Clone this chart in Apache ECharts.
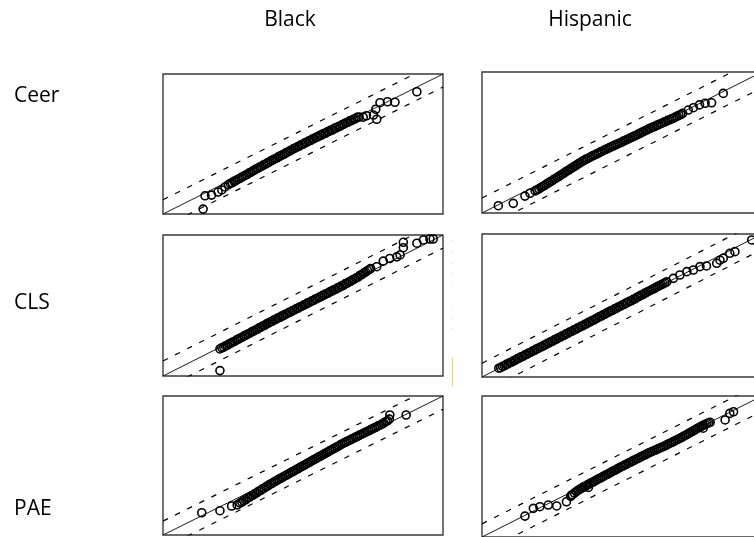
<!DOCTYPE html>
<html>
<head>
<meta charset="utf-8">
<script src="https://cdn.jsdelivr.net/npm/echarts@6/dist/echarts.min.js"></script>
<style>
  html, body { margin: 0; padding: 0; background: #fff; }
  #chart { width: 754px; height: 537px; }
</style>
</head>
<body>
<div id="chart"></div>
<script>
// Normal Q-Q plots of residuals: rows are outcomes, columns are groups.
const rowLabels = ['Ceer', 'CLS', 'PAE'];
const colLabels = ['Black', 'Hispanic'];

// Axis range (theoretical quantile on x, sample quantile on y)
const axisMin = -3;
const axisMax = 3;

// Half-widths of the dashed confidence band above / below the reference line
const bandUpper = [0.61, 0.64, 0.64, 0.58, 0.60, 0.56];
const bandLower = [0.56, 0.67, 0.56, 0.65, 0.57, 0.65];

// [theoretical quantile, sample quantile]
const ceerBlack = [
  [-2.14,-2.79],[-2.10,-2.22],[-1.96,-2.19],[-1.82,-2.06],[-1.74,-1.97],[-1.67,-1.84],
  [-1.60,-1.74],[-1.56,-1.69],[-1.52,-1.66],[-1.48,-1.60],[-1.44,-1.57],[-1.40,-1.52],
  [-1.36,-1.48],[-1.32,-1.43],[-1.28,-1.39],[-1.24,-1.34],[-1.20,-1.31],[-1.16,-1.25],
  [-1.12,-1.21],[-1.08,-1.16],[-1.04,-1.12],[-1.00,-1.06],[-0.96,-1.03],[-0.92,-0.98],
  [-0.88,-0.95],[-0.84,-0.89],[-0.80,-0.86],[-0.76,-0.81],[-0.72,-0.77],[-0.68,-0.71],
  [-0.64,-0.68],[-0.60,-0.63],[-0.56,-0.60],[-0.52,-0.54],[-0.48,-0.51],[-0.44,-0.46],
  [-0.40,-0.43],[-0.36,-0.37],[-0.32,-0.34],[-0.28,-0.29],[-0.24,-0.25],[-0.20,-0.20],
  [-0.16,-0.17],[-0.12,-0.12],[-0.08,-0.09],[-0.04,-0.03],[0.00,-0.01],[0.04,0.05],
  [0.08,0.07],[0.12,0.13],[0.16,0.15],[0.20,0.21],[0.24,0.23],[0.28,0.29],
  [0.32,0.31],[0.36,0.37],[0.40,0.38],[0.44,0.45],[0.48,0.46],[0.52,0.52],
  [0.56,0.54],[0.60,0.60],[0.64,0.61],[0.68,0.68],[0.72,0.69],[0.76,0.75],
  [0.80,0.77],[0.84,0.83],[0.88,0.85],[0.92,0.91],[0.96,0.93],[1.00,0.99],
  [1.04,1.00],[1.08,1.06],[1.12,1.08],[1.16,1.14],[1.20,1.15],
  [1.29,1.15],[1.36,1.21],[1.51,1.24],[1.58,1.06],[1.56,1.49],[1.65,1.77],
  [1.81,1.81],[1.97,1.79],[2.44,2.24]
];
const ceerHispanic = [
  [-2.65,-2.69],[-2.33,-2.59],[-2.08,-2.28],[-1.97,-2.16],
  [-1.86,-2.06],[-1.82,-2.01],[-1.78,-1.97],[-1.74,-1.92],[-1.70,-1.87],[-1.66,-1.83],
  [-1.62,-1.77],[-1.58,-1.73],[-1.54,-1.67],[-1.50,-1.63],[-1.46,-1.57],[-1.42,-1.53],
  [-1.38,-1.47],[-1.34,-1.43],[-1.30,-1.37],[-1.26,-1.32],[-1.22,-1.27],[-1.18,-1.21],
  [-1.14,-1.17],[-1.10,-1.11],[-1.06,-1.07],[-1.02,-1.01],[-0.98,-0.97],[-0.94,-0.91],
  [-0.90,-0.87],[-0.86,-0.81],[-0.82,-0.77],[-0.78,-0.72],[-0.74,-0.69],[-0.70,-0.64],
  [-0.66,-0.60],[-0.62,-0.56],[-0.58,-0.53],[-0.54,-0.48],[-0.50,-0.45],[-0.46,-0.40],
  [-0.42,-0.37],[-0.38,-0.32],[-0.34,-0.29],[-0.30,-0.25],[-0.26,-0.22],[-0.22,-0.17],
  [-0.18,-0.14],[-0.14,-0.10],[-0.10,-0.07],[-0.06,-0.03],[-0.02,0.00],[0.02,0.05],
  [0.06,0.08],[0.10,0.12],[0.14,0.15],[0.18,0.20],[0.22,0.23],[0.26,0.27],
  [0.30,0.30],[0.34,0.35],[0.38,0.38],[0.42,0.43],[0.46,0.46],[0.50,0.51],
  [0.54,0.54],[0.58,0.59],[0.62,0.61],[0.66,0.66],[0.70,0.68],[0.74,0.73],
  [0.78,0.75],[0.82,0.80],[0.86,0.82],[0.90,0.87],[0.94,0.89],[0.98,0.94],
  [1.02,0.96],[1.06,1.01],[1.10,1.03],[1.14,1.08],[1.18,1.11],[1.22,1.16],
  [1.26,1.19],[1.30,1.24],
  [1.42,1.38],[1.53,1.48],[1.66,1.60],[1.78,1.67],[1.92,1.69],[2.17,2.09]
];
const clsBlack = [
  [-1.78,-2.77],
  [-1.78,-1.85],[-1.74,-1.80],[-1.70,-1.77],[-1.66,-1.72],[-1.62,-1.69],[-1.58,-1.63],
  [-1.54,-1.60],[-1.50,-1.55],[-1.46,-1.52],[-1.42,-1.46],[-1.38,-1.43],[-1.34,-1.38],
  [-1.30,-1.35],[-1.26,-1.29],[-1.22,-1.26],[-1.18,-1.21],[-1.14,-1.18],[-1.10,-1.12],
  [-1.06,-1.09],[-1.02,-1.04],[-0.98,-1.01],[-0.94,-0.95],[-0.90,-0.92],[-0.86,-0.87],
  [-0.82,-0.84],[-0.78,-0.78],[-0.74,-0.75],[-0.70,-0.70],[-0.66,-0.67],[-0.62,-0.61],
  [-0.58,-0.59],[-0.54,-0.53],[-0.50,-0.51],[-0.46,-0.45],[-0.42,-0.43],[-0.38,-0.37],
  [-0.34,-0.35],[-0.30,-0.29],[-0.26,-0.27],[-0.22,-0.21],[-0.18,-0.19],[-0.14,-0.13],
  [-0.10,-0.11],[-0.06,-0.05],[-0.02,-0.03],[0.02,0.03],[0.06,0.05],[0.10,0.11],
  [0.14,0.13],[0.18,0.19],[0.22,0.21],[0.26,0.27],[0.30,0.29],[0.34,0.35],
  [0.38,0.37],[0.42,0.43],[0.46,0.45],[0.50,0.51],[0.54,0.53],[0.58,0.59],
  [0.62,0.61],[0.66,0.67],[0.70,0.69],[0.74,0.75],[0.78,0.77],[0.82,0.83],
  [0.86,0.85],[0.90,0.92],[0.94,0.94],[0.98,1.00],[1.02,1.03],[1.06,1.09],
  [1.10,1.12],[1.14,1.18],[1.18,1.21],[1.22,1.28],[1.26,1.31],[1.30,1.38],
  [1.34,1.42],[1.38,1.48],[1.42,1.53],[1.45,1.57],
  [1.58,1.65],[1.72,1.89],[1.86,2.00],[2.01,2.07],[2.08,2.15],[2.15,2.46],[2.15,2.69],
  [2.44,2.65],[2.58,2.79],[2.72,2.83],[2.79,2.83]
];
const clsHispanic = [
  [-2.64,-2.63],[-2.60,-2.61],[-2.56,-2.55],[-2.52,-2.53],[-2.48,-2.47],[-2.44,-2.45],
  [-2.40,-2.39],[-2.36,-2.37],[-2.32,-2.31],[-2.28,-2.29],[-2.24,-2.23],[-2.20,-2.21],
  [-2.16,-2.15],[-2.12,-2.13],[-2.08,-2.07],[-2.04,-2.05],[-2.00,-1.99],[-1.96,-1.97],
  [-1.92,-1.91],[-1.88,-1.89],[-1.84,-1.83],[-1.80,-1.81],[-1.76,-1.75],[-1.72,-1.73],
  [-1.68,-1.67],[-1.64,-1.65],[-1.60,-1.59],[-1.56,-1.57],[-1.52,-1.51],[-1.48,-1.49],
  [-1.44,-1.43],[-1.40,-1.41],[-1.36,-1.35],[-1.32,-1.33],[-1.28,-1.27],[-1.24,-1.25],
  [-1.20,-1.19],[-1.16,-1.17],[-1.12,-1.11],[-1.08,-1.09],[-1.04,-1.03],[-1.00,-1.01],
  [-0.96,-0.95],[-0.92,-0.93],[-0.88,-0.87],[-0.84,-0.85],[-0.80,-0.79],[-0.76,-0.77],
  [-0.72,-0.71],[-0.68,-0.69],[-0.64,-0.63],[-0.60,-0.61],[-0.56,-0.55],[-0.52,-0.52],
  [-0.48,-0.46],[-0.44,-0.44],[-0.40,-0.38],[-0.36,-0.36],[-0.32,-0.30],[-0.28,-0.28],
  [-0.24,-0.22],[-0.20,-0.20],[-0.16,-0.14],[-0.12,-0.12],[-0.08,-0.06],[-0.04,-0.04],
  [0.00,0.02],[0.04,0.04],[0.08,0.10],[0.12,0.12],[0.16,0.18],[0.20,0.20],
  [0.24,0.26],[0.28,0.28],[0.32,0.34],[0.36,0.37],[0.40,0.43],[0.44,0.45],
  [0.48,0.51],[0.52,0.54],[0.56,0.59],[0.60,0.62],[0.64,0.67],[0.68,0.70],
  [0.72,0.75],[0.76,0.79],[0.80,0.83],[0.84,0.87],[0.88,0.91],[0.92,0.95],[0.96,0.99],
  [1.10,1.14],[1.24,1.28],[1.39,1.42],[1.53,1.49],[1.67,1.63],[1.81,1.66],
  [2.03,1.77],[2.10,1.90],[2.17,1.98],[2.31,2.19],[2.42,2.26],[2.78,2.75]
];
const paeBlack = [
  [-2.17,-2.04],[-1.78,-1.95],[-1.53,-1.75],[-1.41,-1.70],
  [-1.35,-1.62],[-1.31,-1.58],[-1.27,-1.52],[-1.23,-1.48],[-1.19,-1.41],[-1.15,-1.38],
  [-1.11,-1.31],[-1.07,-1.28],[-1.03,-1.21],[-0.99,-1.18],[-0.95,-1.11],[-0.91,-1.08],
  [-0.87,-1.01],[-0.83,-0.98],[-0.79,-0.91],[-0.75,-0.88],[-0.71,-0.81],[-0.67,-0.78],
  [-0.63,-0.72],[-0.59,-0.68],[-0.55,-0.63],[-0.51,-0.59],[-0.47,-0.54],[-0.43,-0.50],
  [-0.39,-0.45],[-0.35,-0.41],[-0.31,-0.36],[-0.27,-0.32],[-0.23,-0.27],[-0.19,-0.23],
  [-0.15,-0.18],[-0.11,-0.14],[-0.07,-0.09],[-0.03,-0.05],[0.01,0.00],[0.05,0.04],
  [0.09,0.09],[0.13,0.13],[0.17,0.18],[0.21,0.22],[0.25,0.27],[0.29,0.31],
  [0.33,0.36],[0.37,0.40],[0.41,0.45],[0.45,0.49],[0.49,0.54],[0.53,0.58],
  [0.57,0.63],[0.61,0.67],[0.65,0.72],[0.69,0.76],[0.73,0.81],[0.77,0.85],
  [0.81,0.90],[0.85,0.94],[0.89,0.99],[0.93,1.02],[0.97,1.07],[1.01,1.10],
  [1.05,1.15],[1.09,1.18],[1.13,1.23],[1.17,1.26],[1.21,1.31],[1.25,1.34],
  [1.29,1.39],[1.33,1.42],[1.37,1.47],[1.41,1.50],[1.45,1.55],[1.49,1.58],
  [1.53,1.63],[1.57,1.66],[1.61,1.71],[1.65,1.74],[1.69,1.79],[1.73,1.83],
  [1.77,1.89],[1.81,1.93],[1.85,2.00],
  [1.86,2.18],[2.21,2.18]
];
const paeHispanic = [
  [-2.08,-2.11],[-1.90,-1.78],[-1.76,-1.71],[-1.58,-1.64],[-1.40,-1.68],[-1.19,-1.50],
  [-1.08,-1.21],[-0.83,-0.89],[-0.72,-0.89],
  [-1.10,-1.27],[-1.06,-1.20],[-1.02,-1.13],[-0.98,-1.07],[-0.94,-1.01],[-0.90,-0.96],
  [-0.86,-0.92],[-0.82,-0.87],[-0.78,-0.83],[-0.74,-0.78],[-0.70,-0.74],[-0.66,-0.69],
  [-0.62,-0.66],[-0.58,-0.61],[-0.54,-0.57],[-0.50,-0.52],[-0.46,-0.49],[-0.42,-0.44],
  [-0.38,-0.40],[-0.34,-0.35],[-0.30,-0.32],[-0.26,-0.27],[-0.22,-0.23],[-0.18,-0.18],
  [-0.14,-0.15],[-0.10,-0.10],[-0.06,-0.06],[-0.02,-0.01],[0.02,0.02],[0.06,0.07],
  [0.10,0.10],[0.14,0.15],[0.18,0.18],[0.22,0.23],[0.26,0.26],[0.30,0.31],
  [0.34,0.34],[0.38,0.39],[0.42,0.42],[0.46,0.47],[0.50,0.50],[0.54,0.55],
  [0.58,0.58],[0.62,0.62],[0.66,0.65],[0.70,0.69],[0.74,0.72],[0.78,0.76],
  [0.82,0.79],[0.86,0.83],[0.90,0.86],[0.94,0.90],[0.98,0.94],[1.02,0.98],
  [1.06,1.02],[1.10,1.06],[1.14,1.10],[1.18,1.14],[1.22,1.18],[1.26,1.22],
  [1.30,1.26],[1.34,1.31],[1.38,1.35],[1.42,1.40],[1.46,1.44],[1.50,1.49],
  [1.54,1.53],[1.58,1.58],[1.62,1.62],[1.66,1.67],[1.70,1.71],[1.74,1.75],
  [1.78,1.79],[1.82,1.83],[1.86,1.86],[1.89,1.88],
  [1.74,1.63],[2.21,1.98],[2.31,2.26],[2.39,2.33]
];

const panelData = [ceerBlack, ceerHispanic, clsBlack, clsHispanic, paeBlack, paeHispanic];

// Panel boxes in pixels: [left, top, width, height]
const panelBoxes = [
  [163, 74, 280, 140], [482, 72, 280, 141],
  [163, 235, 280, 141], [482, 234, 280, 143],
  [163, 396, 280, 139], [482, 396, 280, 141]
];

const grids = [], xAxes = [], yAxes = [], series = [];
panelData.forEach((pts, i) => {
  const b = panelBoxes[i];
  grids.push({
    left: b[0], top: b[1], width: b[2], height: b[3],
    show: true, borderColor: '#3a3a3a', borderWidth: 1.4,
    backgroundColor: 'transparent', outerBoundsMode: 'none', containLabel: false
  });
  xAxes.push({ type: 'value', gridIndex: i, min: axisMin, max: axisMax, show: false });
  yAxes.push({ type: 'value', gridIndex: i, min: axisMin, max: axisMax, show: false });
  const lineBase = { type: 'line', xAxisIndex: i, yAxisIndex: i, symbol: 'none', silent: true, clip: true, animation: false };
  series.push(Object.assign({}, lineBase, {
    data: [[axisMin, axisMin], [axisMax, axisMax]],
    lineStyle: { color: '#1a1a1a', width: 1 }, z: 2
  }));
  series.push(Object.assign({}, lineBase, {
    data: [[axisMin, axisMin + bandUpper[i]], [axisMax, axisMax + bandUpper[i]]],
    lineStyle: { color: '#000', width: 1.2, type: [5.5, 8] }, z: 2
  }));
  series.push(Object.assign({}, lineBase, {
    data: [[axisMin, axisMin - bandLower[i]], [axisMax, axisMax - bandLower[i]]],
    lineStyle: { color: '#000', width: 1.2, type: [5.5, 8] }, z: 2
  }));
  // Hollow, unfilled circles so overlapping points build up into a dark band
  series.push({
    type: 'scatter', xAxisIndex: i, yAxisIndex: i, data: pts,
    symbol: 'circle', symbolSize: 8, animation: false, silent: true,
    itemStyle: { color: 'rgba(0,0,0,0)', borderColor: '#000', borderWidth: 1.6, opacity: 1 },
    z: 3
  });
});

const textStyleBase = { fontFamily: 'Open Sans', fontSize: 21, fill: '#000' };
const colCenters = [290, 590];
const rowCenters = [96, 303, 509];
const graphics = [];
colLabels.forEach((t, i) => graphics.push({
  type: 'text', x: colCenters[i], y: 20,
  style: Object.assign({ text: t, align: 'center', verticalAlign: 'middle' }, textStyleBase)
}));
rowLabels.forEach((t, i) => graphics.push({
  type: 'text', x: 14, y: rowCenters[i],
  style: Object.assign({ text: t, align: 'left', verticalAlign: 'middle' }, textStyleBase)
}));
// Faint stray rule between the two columns
graphics.push({
  type: 'line', shape: { x1: 452, y1: 240, x2: 452, y2: 335 },
  style: { stroke: '#eee4c4', lineWidth: 1, lineDash: [2, 9] }, silent: true
});
graphics.push({
  type: 'line', shape: { x1: 452.5, y1: 358, x2: 452.5, y2: 386 },
  style: { stroke: '#e2cf8a', lineWidth: 1 }, silent: true
});

const chart = echarts.init(document.getElementById('chart'), null, { renderer: 'canvas' });
chart.setOption({
  backgroundColor: '#fff',
  animation: false,
  grid: grids,
  xAxis: xAxes,
  yAxis: yAxes,
  series: series,
  graphic: graphics
});
</script>
</body>
</html>
